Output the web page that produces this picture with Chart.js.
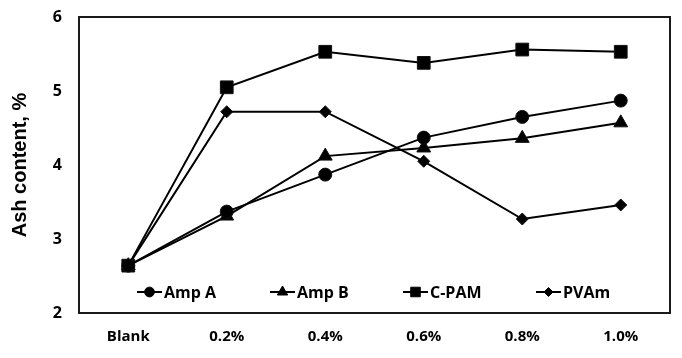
<!DOCTYPE html>
<html>
<head>
<meta charset="utf-8">
<script src="https://cdn.jsdelivr.net/npm/chart.js@4/dist/chart.umd.min.js"></script>
<style>
  html, body { margin: 0; padding: 0; background: #fff; }
  #wrap { width: 682px; height: 358px; position: relative; }
</style>
</head>
<body>
<div id="wrap"><canvas id="ash"></canvas></div>
<script>
// dosage categories and ash content (%) per polymer
const doses = ['Blank', '0.2%', '0.4%', '0.6%', '0.8%', '1.0%'];
const ampA = [2.64, 3.37, 3.87, 4.37, 4.65, 4.87];
const ampB = [2.64, 3.31, 4.12, 4.23, 4.36, 4.57];
const cpam = [2.64, 5.05, 5.53, 5.38, 5.56, 5.53];
const pvam = [2.64, 4.72, 4.72, 4.05, 3.27, 3.46];
const yTicks = [2, 3, 4, 5, 6];

const FONT = '"Open Sans", Lato, sans-serif';

function series(label, data, style, radius) {
  return {
    label, data,
    borderColor: '#000',
    backgroundColor: '#000',
    borderWidth: 2,
    pointStyle: style,
    pointRadius: radius,
    pointBorderWidth: 1,
    pointBorderColor: '#111',
    tension: 0,
    fill: false,
  };
}

// frame around the plot area
const frame = {
  id: 'frame',
  afterDraw(chart) {
    const { ctx, chartArea: a } = chart;
    ctx.save();
    ctx.fillStyle = '#1a1a1a';
    ctx.fillRect(a.left - 1, a.top - 1, a.right - a.left + 2, 2);
    ctx.fillRect(a.left - 1, a.bottom - 1, a.right - a.left + 2, 2);
    ctx.fillRect(a.left - 1, a.top - 1, 2, a.bottom - a.top + 2);
    ctx.fillRect(a.right - 1, a.top - 1, 2, a.bottom - a.top + 2);
    ctx.restore();
  }
};

// legend drawn inside the plot, Excel style (line + marker + name)
const innerLegend = {
  id: 'innerLegend',
  afterDatasetsDraw(chart) {
    const { ctx, chartArea: a } = chart;
    const y = a.bottom - 21;
    ctx.save();
    chart.data.datasets.forEach((ds, i) => {
      const x0 = a.left + 58 + i * 133;
      ctx.strokeStyle = '#000';
      ctx.lineWidth = 2;
      ctx.beginPath();
      ctx.moveTo(x0, y);
      ctx.lineTo(x0 + 25, y);
      ctx.stroke();
      ctx.fillStyle = '#000';
      ctx.strokeStyle = '#000';
      ctx.lineWidth = 1;
      Chart.helpers.drawPoint(ctx, {
        pointStyle: ds.pointStyle,
        radius: ds.pointRadius * 0.75,
        borderWidth: 1,
        rotation: 0
      }, x0 + 12.5, y);
      ctx.fillStyle = '#000';
      ctx.font = 'bold 16px ' + FONT;
      ctx.textBaseline = 'middle';
      ctx.fillText(ds.label, x0 + 27, y + 1);
    });
    ctx.restore();
  }
};

new Chart(document.getElementById('ash'), {
  type: 'line',
  data: {
    labels: doses,
    datasets: [
      series('Amp A', ampA, 'circle', 6.5),
      series('Amp B', ampB, 'triangle', 8),
      series('C-PAM', cpam, 'rect', 9),
      series('PVAm', pvam, 'rectRot', 6),
    ],
  },
  options: {
    responsive: true,
    maintainAspectRatio: false,
    animation: false,
    layout: { padding: { top: 17, right: 12, left: 0, bottom: 0 } },
    plugins: {
      legend: { display: false },
      tooltip: { enabled: false },
    },
    scales: {
      x: {
        offset: true,
        grid: { display: false, drawTicks: false },
        border: { display: false },
        ticks: { color: '#000', font: { family: FONT, size: 15, weight: 'bold' }, padding: 15, maxRotation: 0 },
        afterFit(s) { s.height = 45; },
      },
      y: {
        min: 2,
        max: 6,
        afterBuildTicks(s) { s.ticks = yTicks.map(v => ({ value: v })); },
        grid: { display: false, drawTicks: false },
        border: { display: false },
        ticks: { color: '#000', font: { family: FONT, size: 16, weight: 'bold' }, padding: 17 },
        title: {
          display: true,
          text: 'Ash content, %',
          color: '#000',
          font: { family: '"Liberation Sans", Arial, sans-serif', size: 20, weight: 'bold' },
          padding: { top: 8, bottom: 0 },
        },
        // tick padding would otherwise push the plot top down
        afterFit(s) { s.width = 79; s.paddingTop = 0; s.paddingBottom = 0; },
      },
    },
  },
  plugins: [frame, innerLegend],
});
</script>
</body>
</html>
